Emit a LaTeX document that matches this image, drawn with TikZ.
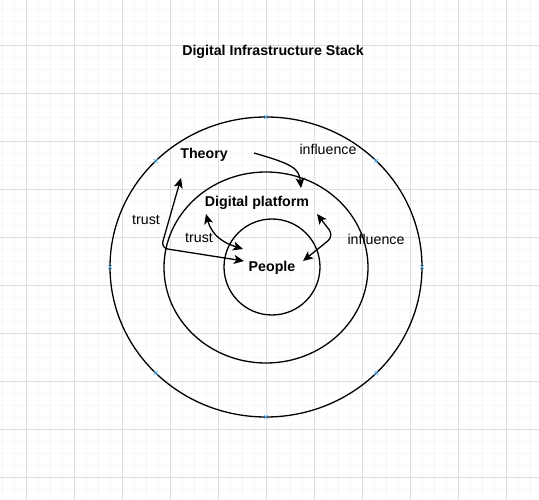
\documentclass[tikz,border=0pt]{standalone}
\usepackage{fontspec}
\setmainfont{Liberation Sans}
\usetikzlibrary{arrows.meta,shapes.geometric}
\definecolor{gridmajor}{HTML}{DFDFDF}
\definecolor{gridminor}{HTML}{F6F6F6}
\definecolor{markblue}{HTML}{3FA9F5}
\begin{document}
\begin{tikzpicture}[x=1pt,y=-1pt,
  ring/.style={draw=black, line width=1.3pt, ellipse, inner sep=0pt},
  lbl/.style={font=\fontsize{14.2}{16}\selectfont, inner sep=0pt},
  blbl/.style={font=\fontsize{14.2}{16}\selectfont\bfseries, inner sep=0pt},
  link/.style={line width=1.3pt, -{Stealth[length=10pt,width=9pt,inset=2.5pt]}},
  dlink/.style={line width=1.3pt, {Stealth[length=10pt,width=9pt,inset=2.5pt]}-{Stealth[length=10pt,width=9pt,inset=2.5pt]}},
  cpx/.style={draw=markblue, line width=0.6pt}
]
\useasboundingbox (0,0) rectangle (539,500);
\fill[white] (0,0) rectangle (539,500);
% grid
\foreach \k in {0,...,45} {
  \draw[gridminor, line width=0.8pt] ({2.3+12*\k},0) -- ++(0,500);
  \draw[gridminor, line width=0.8pt] (0,{-3+12*\k}) -- ++(539,0);
}
\foreach \k in {0,...,11} {
  \draw[gridmajor, line width=0.8pt] ({26.3+48*\k},0) -- ++(0,500);
  \draw[gridmajor, line width=0.8pt] (0,{-3+48*\k}) -- ++(539,0);
}
% title
\node[blbl] (title) at (273,52) {Digital Infrastructure Stack};
% rings
\node[ring, minimum width=312pt, minimum height=300pt] (outer) at (266,267) {};
\node[ring, minimum width=204pt, minimum height=191pt] (middle) at (266,267.5) {};
\node[ring, minimum width=96pt, minimum height=96pt] (inner) at (272,267) {};
% connection markers on outer ring
\foreach \a in {0,45,...,315} {
  \draw[cpx] ({266+156*cos(\a)-2},{267-150*sin(\a)-2}) -- ++(4,4)
             ({266+156*cos(\a)-2},{267-150*sin(\a)+2}) -- ++(4,-4);
}
% labels
\node[blbl] (theory) at (204,155) {Theory};
\node[blbl] (platform) at (257,203) {Digital platform};
\node[blbl] (people) at (272,268) {People};
\node[lbl] (trustA) at (146,220) {trust};
\node[lbl] (trustB) at (199,238) {trust};
\node[lbl] (inflA) at (328,149) {influence};
\node[lbl] (inflB) at (376,239) {influence};
% connector end points
\coordinate (a1s) at (254,153);
\coordinate (a1e) at (301,188);
\coordinate (a2s) at (181,178);
\coordinate (a2c) at (161,248);
\coordinate (a2e) at (244,261);
\coordinate (a3s) at (206,214);
\coordinate (a3e) at (243,249);
\coordinate (a4s) at (317,214);
\coordinate (a4c) at (334,236);
\coordinate (a4e) at (303,261);
% connectors
\draw[link] (a1s) .. controls (292,164) and (299,168) .. (a1e);
\draw[dlink, rounded corners=7pt] (a2s) -- (a2c) -- (a2e);
\draw[dlink] (a3s) .. controls (212,236) and (224,243) .. (a3e);
\draw[dlink, rounded corners=8pt] (a4s) -- (a4c) -- (a4e);
\end{tikzpicture}
\end{document}
